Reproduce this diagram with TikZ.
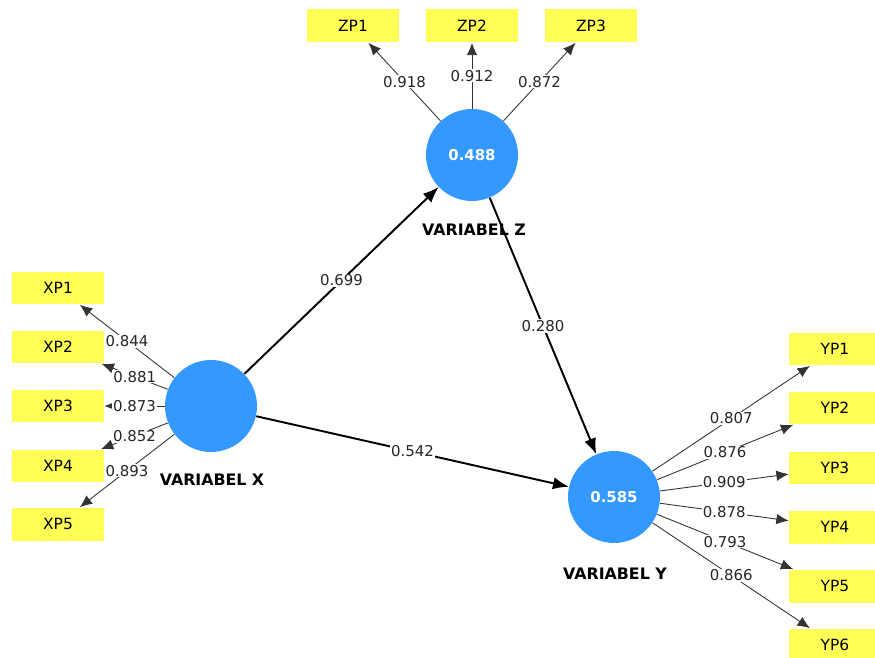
\documentclass[tikz,border=0pt]{standalone}
\usepackage{fontspec}
\setmainfont{DejaVu Sans}
\usetikzlibrary{arrows.meta}
\definecolor{lvblue}{RGB}{51,153,255}
\definecolor{indyellow}{RGB}{255,255,85}
\begin{document}
\begin{tikzpicture}[x=0.02cm,y=-0.02cm,
  latent/.style={circle,fill=lvblue,minimum size=1.84cm,inner sep=0pt,text=white,font=\fontsize{8.5}{10}\selectfont\bfseries},
  indicator/.style={rectangle,fill=indyellow,minimum width=1.84cm,minimum height=0.66cm,inner sep=0pt,font=\fontsize{8.8}{10}\selectfont},
  lvname/.style={font=\fontsize{9}{10}\selectfont\bfseries},
  loading/.style={draw=black!80,line width=0.5pt,-{Latex[length=7pt,width=6pt]}},
  path/.style={draw=black,line width=1.1pt,-{Latex[length=9pt,width=7pt]}},
  coef/.style={fill=white,inner sep=0.5pt,font=\fontsize{8.5}{10}\selectfont,text=black!85}]
  \useasboundingbox (0,0) rectangle (875,658);

  \node[latent] (X) at (211,406) {};
  \node[latent] (Z) at (472,155) {0.488};
  \node[latent] (Y) at (614,497) {0.585};
  \node[lvname] at (212,480) {VARIABEL X};
  \node[lvname] at (474,230) {VARIABEL Z};
  \node[lvname] at (615,574) {VARIABEL Y};

  \node[indicator] (XP1) at (58,288) {XP1};
  \node[indicator] (XP2) at (58,347) {XP2};
  \node[indicator] (XP3) at (58,406) {XP3};
  \node[indicator] (XP4) at (58,466) {XP4};
  \node[indicator] (XP5) at (58,524) {XP5};

  \node[indicator] (ZP1) at (353,26) {ZP1};
  \node[indicator] (ZP2) at (472,26) {ZP2};
  \node[indicator] (ZP3) at (591,26) {ZP3};

  \node[indicator] (YP1) at (835,349) {YP1};
  \node[indicator] (YP2) at (835,408) {YP2};
  \node[indicator] (YP3) at (835,468) {YP3};
  \node[indicator] (YP4) at (835,527) {YP4};
  \node[indicator] (YP5) at (835,586) {YP5};
  \node[indicator] (YP6) at (835,645) {YP6};

  \draw[loading] (X) -- node[coef] {0.844} (XP1);
  \draw[loading] (X) -- node[coef] {0.881} (XP2);
  \draw[loading] (X) -- node[coef] {0.873} (XP3);
  \draw[loading] (X) -- node[coef] {0.852} (XP4);
  \draw[loading] (X) -- node[coef] {0.893} (XP5);

  \draw[loading] (Z) -- node[coef] {0.918} (ZP1);
  \draw[loading] (Z) -- node[coef] {0.912} (ZP2);
  \draw[loading] (Z) -- node[coef] {0.872} (ZP3);

  \draw[loading] (Y) -- node[coef] {0.807} (YP1);
  \draw[loading] (Y) -- node[coef] {0.876} (YP2);
  \draw[loading] (Y) -- node[coef] {0.909} (YP3);
  \draw[loading] (Y) -- node[coef] {0.878} (YP4);
  \draw[loading] (Y) -- node[coef] {0.793} (YP5);
  \draw[loading] (Y) -- node[coef] {0.866} (YP6);

  \draw[path] (X) -- node[coef] {0.699} (Z);
  \draw[path] (Z) -- node[coef] {0.280} (Y);
  \draw[path] (X) -- node[coef] {0.542} (Y);

\end{tikzpicture}
\end{document}
